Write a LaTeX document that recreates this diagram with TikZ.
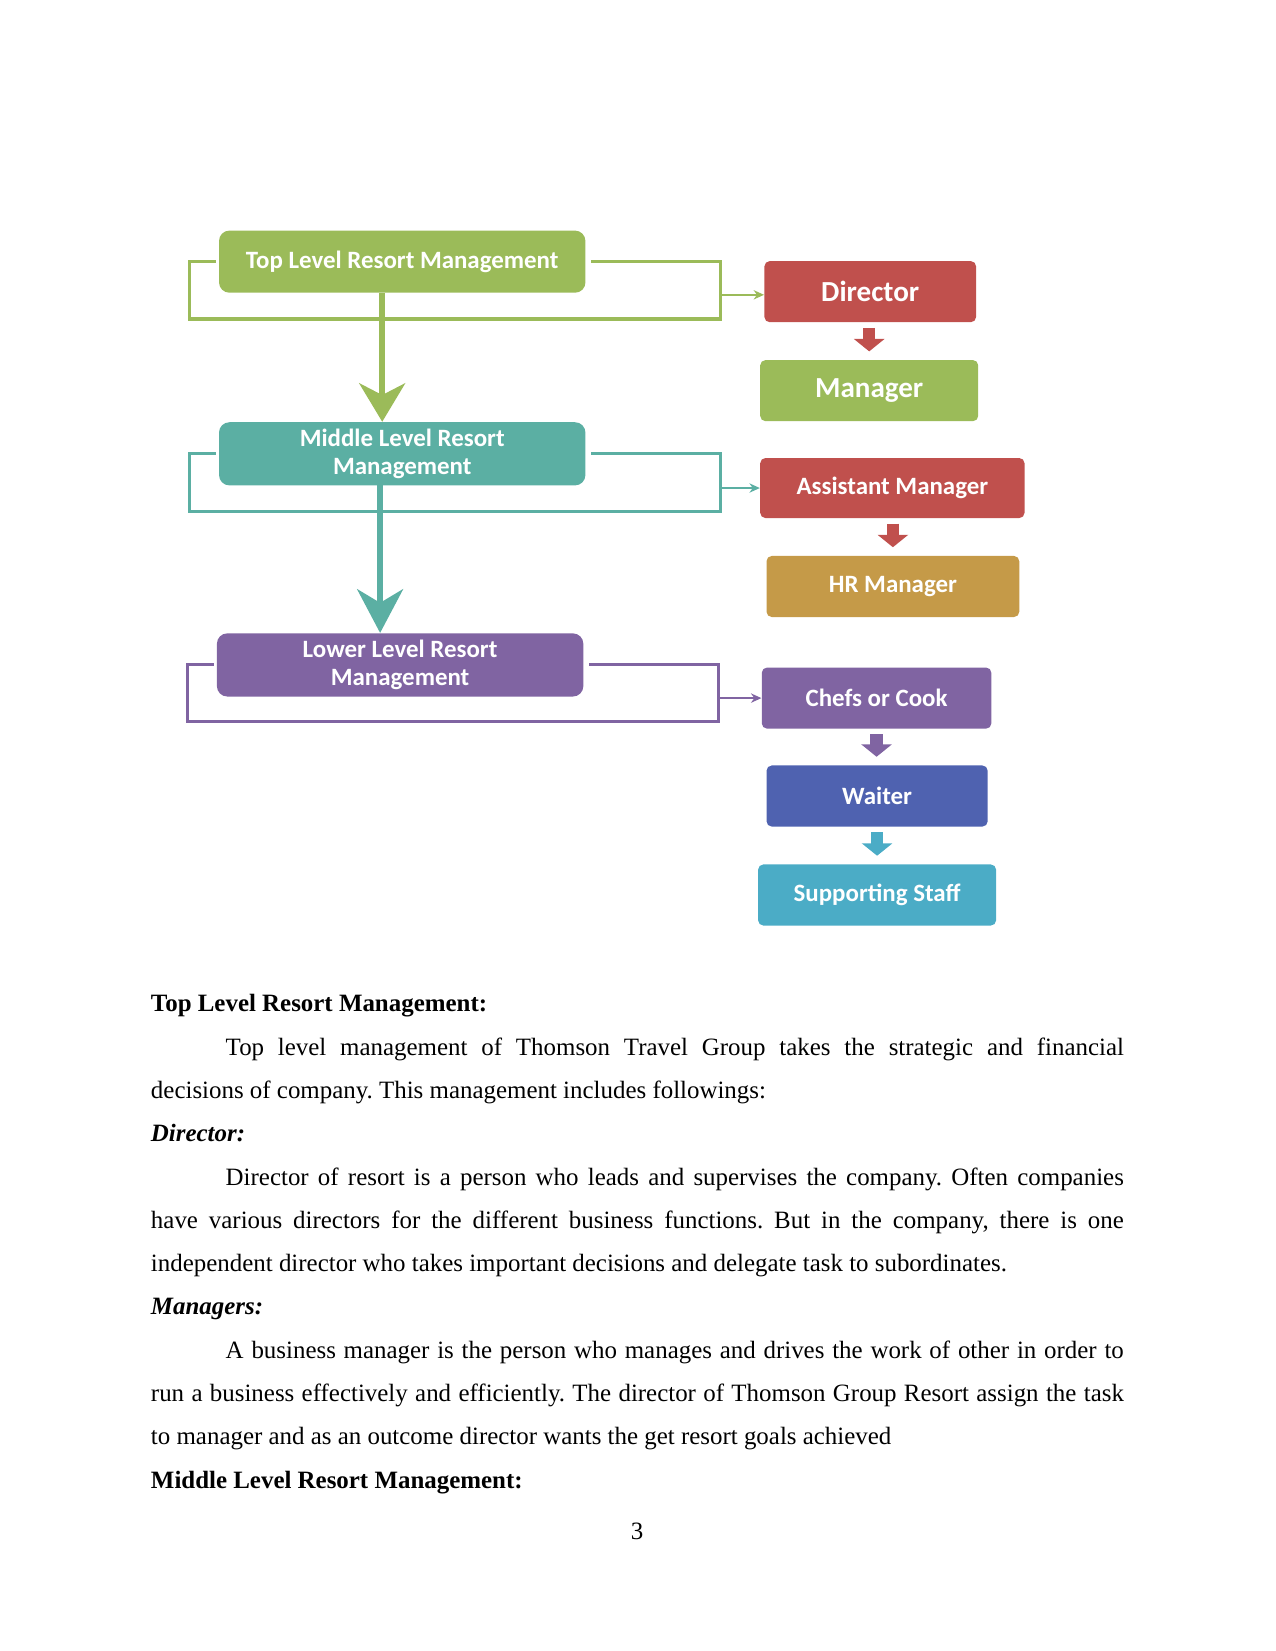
\documentclass[tikz,border=0pt]{standalone}
\usepackage{fontspec}
\setmainfont{Liberation Serif}
\newfontfamily\boxfont{Carlito}
\usetikzlibrary{arrows.meta}

\newlength{\upx}\setlength{\upx}{0.017828cm}
\definecolor{topgreen}{HTML}{9BBB59}
\definecolor{midteal}{HTML}{5BAFA3}
\definecolor{lowpurple}{HTML}{8064A2}
\definecolor{jobred}{HTML}{C0504D}
\definecolor{jobgold}{HTML}{C59A48}
\definecolor{jobblue}{HTML}{4F62B0}
\definecolor{jobcyan}{HTML}{4BACC6}

\begin{document}
\begin{tikzpicture}[x=0.017828cm,y=-0.017828cm,
  lvl/.style={rounded corners=5pt,text=white,align=center,inner sep=0pt,
    minimum width=348\upx,minimum height=60\upx,
    font=\boxfont\fontsize{12pt}{13.7pt}\selectfont\bfseries},
  job/.style={rounded corners=2.5pt,text=white,inner sep=0pt,minimum height=58\upx,
    font=\boxfont\fontsize{12pt}{13.7pt}\selectfont\bfseries},
  bigjob/.style={job,font=\boxfont\fontsize{14pt}{16pt}\selectfont\bfseries},
  brk/.style={line width=1.5pt},
  feed/.style={line width=0.8pt,-{Stealth[length=5pt,width=4.5pt]}},
  trunk/.style={line width=3pt},
  blk/.style={line width=6pt,-{Triangle[width=14.5pt,length=6pt]},shorten <=2.5pt,shorten >=4pt},
  txt/.style={inner sep=0pt,anchor=base west}]
\useasboundingbox (0,0) rectangle (1211,1568);

% brackets behind the level boxes
\draw[brk,topgreen] (205,248.5) -- (180,248.5) -- (180,303) -- (684,303) -- (684,248.5) -- (561,248.5);
\draw[brk,midteal] (205,431) -- (180,431) -- (180,486) -- (684,486) -- (684,431) -- (561,431);
\draw[brk,lowpurple] (203,631) -- (178,631) -- (178,685.5) -- (682,685.5) -- (682,631) -- (559,631);

% levels
\node[lvl,fill=topgreen,minimum height=59\upx] (top) at (382,248.5) {Top Level Resort Management};
\node[lvl,fill=midteal] (mid) at (382,431) {Middle Level Resort\\Management};
\node[lvl,fill=lowpurple] (low) at (380,631.5) {Lower Level Resort\\Management};

% jobs
\node[bigjob,fill=jobred,minimum width=201\upx] (dir) at (826.5,277) {Director};
\node[bigjob,fill=topgreen,minimum width=207\upx] (man) at (825.5,371) {Manager};
\node[job,fill=jobred,minimum width=251\upx,minimum height=57\upx] (ast) at (847.5,463.5) {Assistant Manager};
\node[job,fill=jobgold,minimum width=240\upx] (hr) at (848,557) {HR Manager};
\node[job,fill=lowpurple,minimum width=218\upx] (chef) at (832.5,663) {Chefs or Cook};
\node[job,fill=jobblue,minimum width=210\upx] (wait) at (833,756) {Waiter};
\node[job,fill=jobcyan,minimum width=226\upx] (sup) at (833,850) {Supporting Staff};

% trunk arrows
\coordinate (tA) at (363,278.5);
\coordinate (tB) at (361,461);
\draw[trunk,topgreen,-{Stealth[width=22pt,length=18.5pt,inset=5.6pt]}] (tA) -- (tA |- mid.north);
\draw[trunk,midteal,-{Stealth[width=22pt,length=21pt,inset=6.5pt]}] (tB) -- (tB |- low.north);

% feeds into the job chains
\coordinate (fA) at (684,280);
\coordinate (fB) at (684,463.5);
\coordinate (fC) at (682,663);
\draw[feed,topgreen] (fA) -- (fA -| dir.west);
\draw[feed,midteal] (fB) -- (fB -| ast.west);
\draw[feed,lowpurple] (fC) -- (fC -| chef.west);

% block arrows
\draw[blk,jobred] (dir.south -| man.north) -- (man.north);
\draw[blk,jobred] (ast.south -| hr.north) -- (hr.north);
\draw[blk,lowpurple] (chef.south) -- (chef.south |- wait.north);
\draw[blk,jobcyan] (wait.south) -- (sup.north);

% text below
\node[txt,text width=924\upx,align=justify,font=\fontsize{12pt}{20.85pt}\selectfont\frenchspacing] (body) at (143,961) {%
\textbf{Top Level Resort Management:}\par
\hspace*{71\upx}Top level management of Thomson Travel Group takes the strategic and financial\linebreak
decisions of company. This management includes followings:\par
\textbf{\textit{Director:}}\par
\hspace*{71\upx}Director of resort is a person who leads and supervises the company. Often companies\linebreak
have various directors for the different business functions. But in the company, there is one\linebreak
independent director who takes important decisions and delegate task to subordinates.\par
\textbf{\textit{Managers:}}\par
\hspace*{71\upx}A business manager is the person who manages and drives the work of other in order to\linebreak
run a business effectively and efficiently. The director of Thomson Group Resort assign the task\linebreak
to manager and as an outcome director wants the get resort goals achieved\par
\textbf{Middle Level Resort Management:}};
\node[inner sep=0pt,anchor=base,font=\fontsize{12pt}{14pt}\selectfont] (pg) at (605,1462) {3};
\end{tikzpicture}
\end{document}
